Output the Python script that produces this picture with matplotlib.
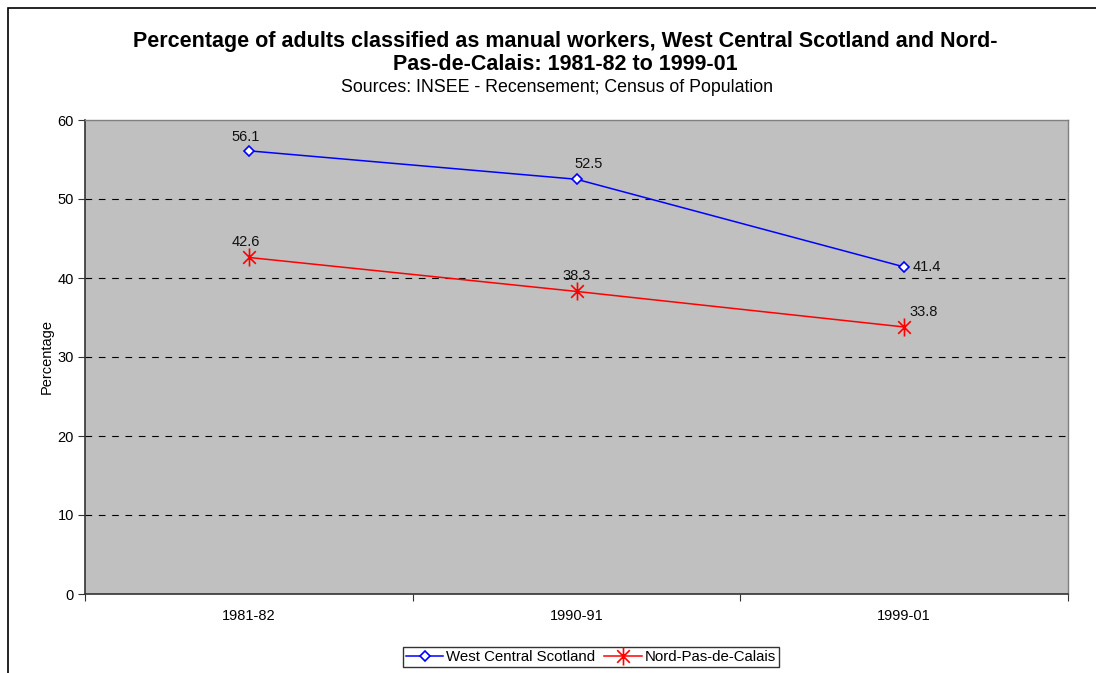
import matplotlib
matplotlib.use("Agg")
import matplotlib.pyplot as plt
from matplotlib.path import Path
from matplotlib.patches import Rectangle

periods = ["1981-82", "1990-91", "1999-01"]
wcs = [56.1, 52.5, 41.4]
npc = [42.6, 38.3, 33.8]
series_names = ["West Central Scotland", "Nord-Pas-de-Calais"]
y_ticks = [0, 10, 20, 30, 40, 50, 60]

plt.rcParams['font.family'] = ['Liberation Sans', 'DejaVu Sans']

W, H = 1096, 673
fig = plt.figure(figsize=(W / 100, H / 100), dpi=100)

# outer chart border
fig.patches.append(Rectangle((7.5 / W, -0.01), 1.2, 1 - 7.5 / H + 0.01,
                             transform=fig.transFigure, fill=False,
                             edgecolor='black', linewidth=1.2))

ax = fig.add_axes([85 / W, 1 - 594 / H, (1068 - 85) / W, (594 - 120) / H])
ax.set_facecolor('#C0C0C0')

x = [i + 0.5 for i in range(len(periods))]

star = Path([(-0.7, -0.7), (0.7, 0.7), (-0.7, 0.7), (0.7, -0.7), (0, -1), (0, 1)],
            [Path.MOVETO, Path.LINETO] * 3)

ax.plot(x, wcs, color='#0000FF', linewidth=1.1, marker='D', markersize=5,
        markerfacecolor='white', markeredgecolor='#0000FF', markeredgewidth=1.2,
        label=series_names[0], zorder=3)
ax.plot(x, npc, color='#FF0000', linewidth=1.1, marker=star, markersize=13,
        markeredgecolor='#FF0000', markeredgewidth=1.2,
        label=series_names[1], zorder=3)

wcs_off = [(-2, 10), (9, 11), (16, 0)]
npc_off = [(-2, 11), (0, 11), (14, 11)]
for xi, v, o in zip(x, wcs, wcs_off):
    ax.annotate(f"{v:.1f}", (xi, v), xytext=o, textcoords='offset points',
                ha='center', va='center', fontsize=10.5, color='#111111')
for xi, v, o in zip(x, npc, npc_off):
    ax.annotate(f"{v:.1f}", (xi, v), xytext=o, textcoords='offset points',
                ha='center', va='center', fontsize=10.5, color='#111111')

ax.set_xlim(0, len(periods))
ax.set_ylim(0, 60)
ax.set_yticks(y_ticks)
ax.set_yticklabels([str(t) for t in y_ticks], fontsize=10.5)
ax.set_xticks(range(len(periods) + 1))
ax.set_xticklabels([])
ax.set_xticks(x, minor=True)
ax.set_xticklabels(periods, minor=True, fontsize=10.5)
ax.tick_params(axis='x', which='minor', length=0, pad=11)
ax.tick_params(axis='x', which='major', length=5, direction='out', color='#333333')
ax.tick_params(axis='y', length=5, direction='out', color='#333333', pad=3)

for t in y_ticks[1:-1]:
    ax.axhline(t, color='black', linewidth=0.8, linestyle=(0, (6, 6)), zorder=1)

for s in ['top', 'right']:
    ax.spines[s].set_color('#808080')
    ax.spines[s].set_linewidth(1.0)
for s in ['left', 'bottom']:
    ax.spines[s].set_color('#333333')
    ax.spines[s].set_linewidth(1.2)

ax.set_ylabel("Percentage", fontsize=10.5, labelpad=3)

fig.text(565 / W, 1 - 41 / H, "Percentage of adults classified as manual workers, West Central Scotland and Nord-",
         ha='center', va='center', fontsize=15.5, fontweight='bold')
fig.text(565 / W, 1 - 64 / H, "Pas-de-Calais: 1981-82 to 1999-01",
         ha='center', va='center', fontsize=15.5, fontweight='bold')
fig.text(557 / W, 1 - 88 / H, "Sources: INSEE - Recensement; Census of Population",
         ha='center', va='center', fontsize=12.8)

leg = fig.legend(loc='center', bbox_to_anchor=(591 / W, 1 - 657 / H), ncol=2,
                 fontsize=10.8, frameon=True, fancybox=False, edgecolor='black',
                 handlelength=2.5, handletextpad=0.2, columnspacing=0.6,
                 borderpad=0.2)
leg.get_frame().set_linewidth(1.0)

fig.savefig("out.png", dpi=100)
